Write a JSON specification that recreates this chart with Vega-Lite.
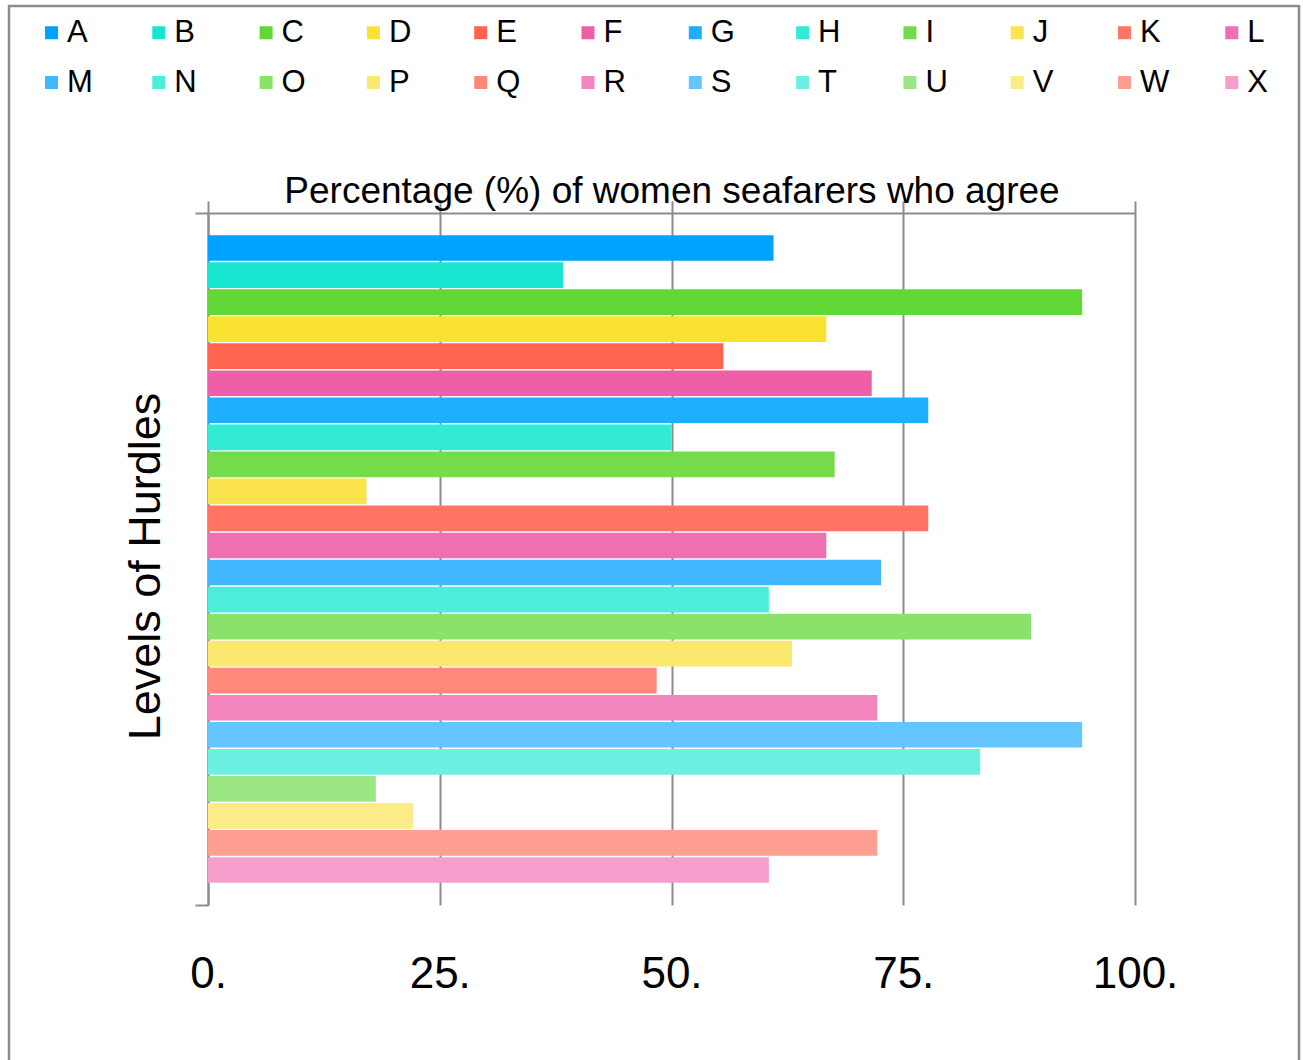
{
  "$schema": "https://vega.github.io/schema/vega-lite/v6.json",
  "width": 1290,
  "height": 1060,
  "autosize": {"type": "none"},
  "padding": {"left": 9, "top": 6, "right": 4, "bottom": 0},
  "background": "white",
  "config": {
    "font": "Liberation Sans",
    "view": {"stroke": "#8c8c8c", "strokeWidth": 2.5}
  },
  "data": {
    "values": [
      {"hurdle": "A", "pct": 61.0},
      {"hurdle": "B", "pct": 38.3},
      {"hurdle": "C", "pct": 94.3},
      {"hurdle": "D", "pct": 66.7},
      {"hurdle": "E", "pct": 55.6},
      {"hurdle": "F", "pct": 71.6},
      {"hurdle": "G", "pct": 77.7},
      {"hurdle": "H", "pct": 50.0},
      {"hurdle": "I", "pct": 67.6},
      {"hurdle": "J", "pct": 17.1},
      {"hurdle": "K", "pct": 77.7},
      {"hurdle": "L", "pct": 66.7},
      {"hurdle": "M", "pct": 72.6},
      {"hurdle": "N", "pct": 60.5},
      {"hurdle": "O", "pct": 88.8},
      {"hurdle": "P", "pct": 63.0},
      {"hurdle": "Q", "pct": 48.4},
      {"hurdle": "R", "pct": 72.2},
      {"hurdle": "S", "pct": 94.3},
      {"hurdle": "T", "pct": 83.3},
      {"hurdle": "U", "pct": 18.1},
      {"hurdle": "V", "pct": 22.1},
      {"hurdle": "W", "pct": 72.2},
      {"hurdle": "X", "pct": 60.5}
    ]
  },
  "layer": [
    {
      "mark": {"type": "bar"},
      "encoding": {
        "y": {
          "field": "hurdle",
          "type": "nominal",
          "sort": null,
          "scale": {"range": [207, 899], "paddingInner": 0.05, "paddingOuter": 0.82},
          "axis": {
            "orient": "left",
            "offset": -199,
            "domain": true,
            "domainColor": "#8c8c8c",
            "domainWidth": 2,
            "ticks": false,
            "labels": false,
            "grid": false,
            "title": "Levels of Hurdles",
            "titleFontSize": 45,
            "titleFontWeight": "normal",
            "titleColor": "#000000",
            "titlePadding": 40,
            "titleY": 560
          }
        },
        "x": {
          "field": "pct",
          "type": "quantitative",
          "scale": {"domain": [0, 100], "range": [199, 1126], "nice": false, "zero": true},
          "axis": {
            "orient": "top",
            "offset": -207,
            "values": [0, 25, 50, 75, 100],
            "labels": false,
            "ticks": true,
            "tickSize": 12,
            "tickColor": "#8c8c8c",
            "tickWidth": 2,
            "domain": true,
            "domainColor": "#8c8c8c",
            "domainWidth": 2,
            "grid": true,
            "gridColor": "#8c8c8c",
            "gridWidth": 2,
            "gridOpacity": 1,
            "title": "Percentage (%) of women seafarers who agree",
            "titleFontSize": 37,
            "titleFontWeight": "normal",
            "titleColor": "#000000",
            "titlePadding": -10
          }
        },
        "color": {
          "field": "hurdle",
          "type": "nominal",
          "sort": null,
          "scale": {
            "domain": ["A","B","C","D","E","F","G","H","I","J","K","L","M","N","O","P","Q","R","S","T","U","V","W","X"],
            "range": ["#00A2FF","#18E6D0","#61D836","#FAE232","#FF644E","#EF5FA7","#1FADFF","#33EBD5","#74DC4A","#FBE44D","#FF7462","#F06FB0","#40B7FF","#4EEDDB","#8BE26A","#FBE86E","#FF8878","#F386BE","#64C5FF","#6DF0E2","#9CE784","#FCEC87","#FF9F92","#F59DCB"]
          },
          "legend": {
            "orient": "none",
            "legendX": 27,
            "legendY": 11,
            "direction": "horizontal",
            "columns": 12,
            "title": null,
            "symbolType": "square",
            "symbolSize": 169,
            "symbolStrokeWidth": 0,
            "symbolOpacity": 1,
            "labelFontSize": 31,
            "labelColor": "#000000",
            "labelOffset": 0,
            "labelLimit": 0,
            "columnPadding": 46.3,
            "rowPadding": 18,
            "gridAlign": "all",
            "padding": 0
          }
        }
      }
    },
    {
      "mark": {"type": "point", "opacity": 0, "clip": true},
      "encoding": {
        "x": {
          "field": "pct",
          "type": "quantitative",
          "axis": {
            "orient": "bottom",
            "offset": -114,
            "values": [0, 25, 50, 75, 100],
            "labelExpr": "datum.value + '.'",
            "labelFontSize": 44,
            "labelColor": "#000000",
            "labelPadding": 0,
            "labelFlush": false,
            "labelOverlap": false,
            "labelBound": false,
            "ticks": false,
            "domain": false,
            "grid": false,
            "title": null
          }
        },
        "y": {
          "field": "pct",
          "type": "quantitative",
          "scale": {"domain": [0, 1], "range": [207, 899], "nice": false, "zero": false},
          "axis": {
            "orient": "left",
            "offset": -199,
            "values": [0, 1],
            "labels": false,
            "domain": false,
            "ticks": true,
            "tickSize": 13,
            "tickColor": "#8c8c8c",
            "tickWidth": 2,
            "grid": false,
            "title": null
          }
        }
      }
    }
  ],
  "resolve": {
    "scale": {"y": "independent"},
    "axis": {"x": "independent", "y": "independent"}
  }
}
